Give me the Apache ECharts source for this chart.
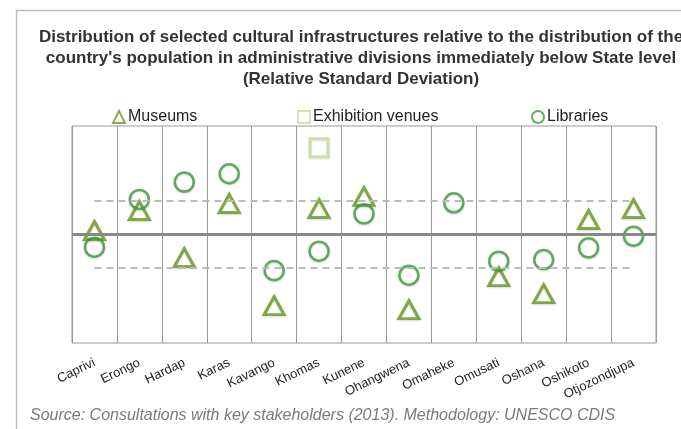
<!DOCTYPE html>
<html>
<head>
<meta charset="utf-8">
<script src="https://cdn.jsdelivr.net/npm/echarts@6/dist/echarts.min.js"></script>
<style>
  html, body { margin: 0; padding: 0; background: #fff; }
  #chart { width: 681px; height: 429px; }
</style>
</head>
<body>
<div id="chart"></div>
<script>
// Relative standard deviation by region
const categories = ['Caprivi', 'Erongo', 'Hardap', 'Karas', 'Kavango', 'Khomas', 'Kunene',
  'Ohangwena', 'Omaheke', 'Omusati', 'Oshana', 'Oshikoto', 'Otjozondjupa'];
const museums = [0.12, 0.72, -0.69, 0.93, -2.13, 0.78, 1.14, -2.25, null, -1.26, -1.77, 0.45, 0.78];
const exhibitionVenues = [null, null, null, null, null, 2.6, null, null, null, null, null, null, null];
const libraries = [-0.38, 1.05, 1.57, 1.82, -1.08, -0.5, 0.62, -1.22, 0.95, -0.8, -0.75, -0.4, -0.05];
const bandLevels = [1, -1];

const FONT = '"Liberation Sans"';
const chart = echarts.init(document.getElementById('chart'));

const option = {
  backgroundColor: '#fff',
  animation: false,
  title: {
    text: 'Distribution of selected cultural infrastructures relative to the distribution of the\n' +
      "country's population in administrative divisions immediately below State level\n" +
      '(Relative Standard Deviation)',
    left: 356,
    top: 22,
    textAlign: 'center',
    textStyle: { fontFamily: FONT, fontSize: 17, fontWeight: 'bold', color: '#333', lineHeight: 21 }
  },
  graphic: [
    { type: 'rect', shape: { x: 16.5, y: 10.5, width: 700, height: 500 },
      style: { fill: 'none', stroke: '#bbb', lineWidth: 1.5 }, silent: true },
    { type: 'text', left: 30, top: 408,
      style: { text: 'Source: Consultations with key stakeholders (2013). Methodology: UNESCO CDIS',
        font: 'italic 16px ' + FONT, fill: '#7a7a7a' } }
  ],
  legend: [
    { data: ['Museums'], left: 112, top: 109 },
    { data: ['Exhibition venues'], left: 297, top: 109 },
    { data: ['Libraries'], left: 531, top: 109 }
  ].map(l => Object.assign(l, {
    padding: 0,
    itemWidth: 12, itemHeight: 12, itemGap: 5,
    textStyle: { fontFamily: FONT, fontSize: 16, color: '#222', padding: [0, 0, 0, -2] }
  })),
  grid: { left: 72, right: 25, top: 126, bottom: 86, show: true, borderColor: '#999', borderWidth: 1 },
  xAxis: {
    type: 'category',
    data: categories,
    boundaryGap: true,
    axisLine: { show: true, lineStyle: { color: '#999' } },
    axisTick: { show: false },
    splitLine: { show: true, lineStyle: { color: '#999', width: 1 } },
    axisLabel: { rotate: 26, margin: 19, interval: 0, fontFamily: FONT, fontSize: 13, color: '#222' }
  },
  yAxis: {
    type: 'value',
    min: -3.25,
    max: 3.25,
    axisLine: { show: false },
    axisTick: { show: false },
    axisLabel: { show: false },
    splitLine: { show: false }
  },
  series: [
    {
      name: 'Museums',
      type: 'scatter',
      symbol: 'triangle',
      symbolSize: [20, 18],
      data: museums,
      itemStyle: { color: 'rgba(255,255,255,0)', borderColor: '#6a9a1f', borderWidth: 3,
        shadowBlur: 2, shadowColor: 'rgba(0,0,0,0.2)', shadowOffsetY: 1 },
      z: 3,
      markLine: {
        silent: true,
        symbol: 'none',
        label: { show: false },
        data: [
          { yAxis: 0, lineStyle: { color: '#888', width: 3, type: 'solid' } },
          ...bandLevels.map(v => [
            { coord: [categories[0], v] },
            { coord: [categories[categories.length - 1], v] }
          ])
        ],
        lineStyle: { color: '#bbb', width: 2, type: [7, 5] }
      }
    },
    {
      name: 'Exhibition venues',
      type: 'scatter',
      symbol: 'rect',
      symbolSize: 18,
      data: exhibitionVenues,
      itemStyle: { color: 'rgba(255,255,255,0)', borderColor: '#c6dca2', borderWidth: 3,
        shadowBlur: 2, shadowColor: 'rgba(0,0,0,0.15)', shadowOffsetY: 1 },
      z: 3
    },
    {
      name: 'Libraries',
      type: 'scatter',
      symbol: 'circle',
      symbolSize: 19,
      data: libraries,
      itemStyle: { color: 'rgba(255,255,255,0)', borderColor: '#3d9a3d', borderWidth: 2.5,
        shadowBlur: 2, shadowColor: 'rgba(0,0,0,0.2)', shadowOffsetY: 1 },
      z: 4
    }
  ]
};

chart.setOption(option);
</script>
</body>
</html>
